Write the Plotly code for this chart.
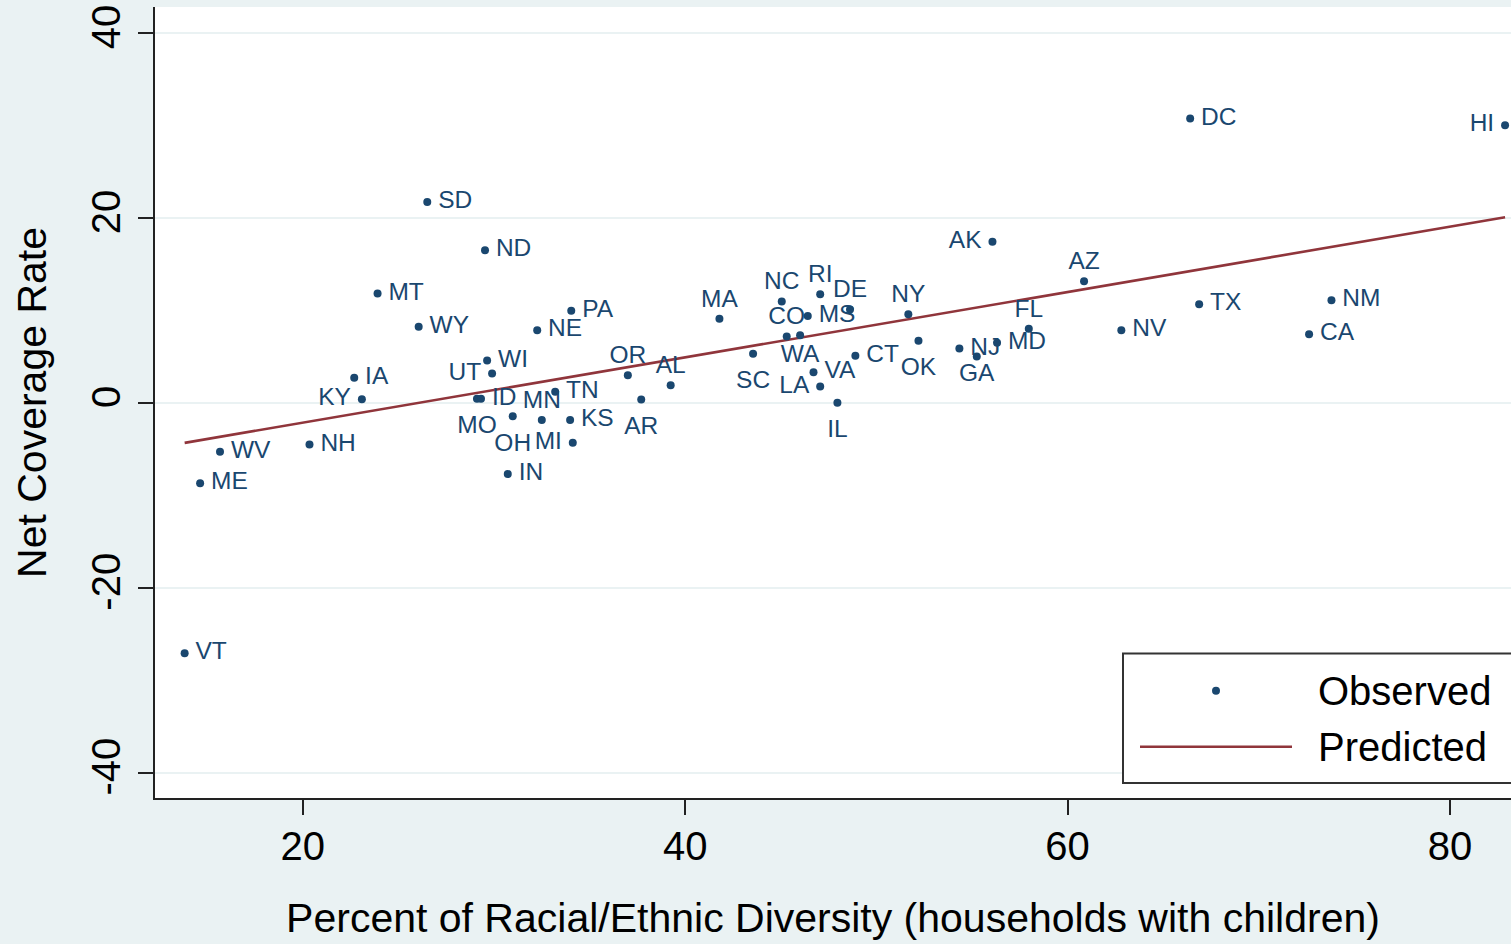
import plotly.graph_objects as go

# ---- data ----
states = ["VT", "ME", "WV", "NH", "IA", "KY", "MT", "WY", "SD", "MO", "ID",
          "ND", "WI", "UT", "IN", "OH", "NE", "MN", "TN", "KS", "MI", "PA",
          "OR", "AR", "AL", "MA", "SC", "NC", "CO", "WA", "MS", "VA", "LA",
          "RI", "IL", "DE", "CT", "NY", "OK", "NJ", "GA", "AK", "MD", "FL",
          "AZ", "NV", "DC", "TX", "CA", "NM", "HI"]
diversity_pct = [13.82, 14.63, 15.67, 20.35, 22.69, 23.09, 23.91, 26.06, 26.51, 29.11, 29.32,
                 29.53, 29.64, 29.90, 30.72, 30.98, 32.26, 32.50, 33.20, 33.98, 34.12, 34.04,
                 37.00, 37.70, 39.24, 41.79, 43.55, 45.05, 45.31, 46.01, 46.41, 46.71, 47.06,
                 47.06, 47.96, 48.62, 48.90, 51.67, 52.20, 54.34, 55.25, 56.07, 56.31, 57.97,
                 60.86, 62.81, 66.41, 66.88, 72.63, 73.80, 82.88]
net_coverage = [-27.09, -8.71, -5.30, -4.50, 2.70, 0.40, 11.83, 8.22, 21.73, 0.45, 0.45,
                16.51, 4.58, 3.18, -7.71, -1.44, 7.86, -1.87, 1.19, -1.87, -4.32, 9.95,
                2.99, 0.36, 1.91, 9.08, 5.30, 10.95, 7.18, 7.30, 9.39, 3.32, 1.77,
                11.75, 0.00, 10.10, 5.10, 9.59, 6.71, 5.88, 5.01, 17.41, 6.49, 8.00,
                13.16, 7.86, 30.75, 10.67, 7.43, 11.10, 30.02]

# fitted (predicted) line, read at the ends of the data range
pred_x = [13.82, 82.88]
pred_y = [-4.33, 20.07]

x_ticks = [20, 40, 60, 80]
y_ticks = [-40, -20, 0, 20, 40]

x_title = "Percent of Racial/Ethnic Diversity (households with children)"
y_title = "Net Coverage Rate"
legend_labels = ["Observed", "Predicted"]

# ---- style ----
NAVY = "#1a476f"
MAROON = "#90353b"
BG = "#eaf2f3"
FONT = "Liberation Sans, Arial, sans-serif"

label_side = {
    "KY": "middle left", "UT": "middle left", "MI": "middle left", "LA": "middle left",
    "AK": "middle left", "HI": "middle left",
    "MO": "bottom center", "OH": "bottom center", "AR": "bottom center", "SC": "bottom center",
    "WA": "bottom center", "IL": "bottom center", "OK": "bottom center", "GA": "bottom center",
    "MN": "top center", "OR": "top center", "AL": "top center", "MA": "top center",
    "NC": "top center", "CO": "top center", "RI": "top center", "DE": "top center",
    "NY": "top center", "FL": "top center", "AZ": "top center",
}
# label gap (through an invisible marker size) for labels set further from the dot
label_gap = {"MO": 24, "OH": 24, "AR": 24, "SC": 24, "IL": 24, "OK": 24, "WA": 12}

positions = [label_side.get(s, "middle right") for s in states]
shown_text = []
for s, p in zip(states, positions):
    if p == "middle right":
        shown_text.append("\u2009" + s)
    elif p == "middle left":
        shown_text.append(s + "\u2009")
    else:
        shown_text.append(s)

fig = go.Figure()

fig.add_trace(go.Scatter(
    x=pred_x, y=pred_y, mode="lines", name=legend_labels[1],
    line=dict(color=MAROON, width=2.6), hoverinfo="skip",
))

# observed dots
fig.add_trace(go.Scatter(
    x=diversity_pct, y=net_coverage, mode="markers", name=legend_labels[0],
    marker=dict(color=NAVY, size=8),
    text=states, hoverinfo="x+y+text",
))

# state labels, grouped by their distance from the dot
for msize in sorted(set(label_gap.get(s, 8) for s in states)):
    idx = [i for i, s in enumerate(states) if label_gap.get(s, 8) == msize]
    fig.add_trace(go.Scatter(
        x=[diversity_pct[i] for i in idx], y=[net_coverage[i] for i in idx],
        mode="markers+text",
        text=[shown_text[i] for i in idx],
        textposition=[positions[i] for i in idx],
        textfont=dict(family=FONT, size=24.5, color=NAVY),
        marker=dict(size=msize, color="rgba(0,0,0,0)"),
        hoverinfo="skip", showlegend=False,
    ))

# manual legend (Stata style box, partly cut at right edge)
W, H = 1356.0, 791.0  # plot area size in px
def px(xp):
    return (xp - 155) / W
def py(yp):
    return (798 - yp) / H

shapes = [
    dict(type="rect", xref="paper", yref="paper",
         x0=px(1123), x1=1.05, y0=py(783), y1=py(653.5),
         line=dict(color="#333333", width=2), fillcolor="white", layer="above"),
    dict(type="circle", xref="paper", yref="paper",
         x0=px(1212), x1=px(1220), y0=py(694.7), y1=py(686.7),
         line=dict(color=NAVY, width=0), fillcolor=NAVY, layer="above"),
    dict(type="line", xref="paper", yref="paper",
         x0=px(1140), x1=px(1292), y0=py(746.7), y1=py(746.7),
         line=dict(color=MAROON, width=2.6), layer="above"),
]
annotations = [
    dict(xref="paper", yref="paper", x=px(1316), y=py(691), text=legend_labels[0],
         showarrow=False, xanchor="left", yanchor="middle",
         font=dict(family=FONT, size=40, color="#000000")),
    dict(xref="paper", yref="paper", x=px(1316), y=py(747), text=legend_labels[1],
         showarrow=False, xanchor="left", yanchor="middle",
         font=dict(family=FONT, size=40, color="#000000")),
]

fig.update_layout(
    width=1511, height=944,
    margin=dict(l=155, r=0, t=7, b=146),
    paper_bgcolor=BG, plot_bgcolor="white",
    showlegend=False,
    font=dict(family=FONT, color="#000000"),
    shapes=shapes, annotations=annotations,
    xaxis=dict(
        range=[12.27, 83.19], tickvals=x_ticks, ticktext=[str(v) for v in x_ticks],
        showgrid=False, zeroline=False,
        showline=True, linecolor="#222222", linewidth=2,
        ticks="outside", ticklen=15, tickwidth=2, tickcolor="#222222",
        tickfont=dict(family=FONT, size=40, color="#000000"),
        ticklabelstandoff=-3,
        title=dict(text=x_title, font=dict(family=FONT, size=41, color="#000000"), standoff=36),
    ),
    yaxis=dict(
        range=[-42.74, 42.81], tickvals=y_ticks, ticktext=[str(v) for v in y_ticks],
        tickangle=-90,
        showgrid=True, gridcolor=BG, gridwidth=2, zeroline=False,
        showline=True, linecolor="#222222", linewidth=2,
        ticks="outside", ticklen=15, tickwidth=2, tickcolor="#222222",
        tickfont=dict(family=FONT, size=40, color="#000000"),
        ticklabelstandoff=2,
        title=dict(text=y_title, font=dict(family=FONT, size=41, color="#000000"), standoff=25),
    ),
)

fig.write_html(
    "out.html",
    config={"displayModeBar": False},
    post_script="document.body.style.margin='0';document.body.style.overflow='hidden';",
)
